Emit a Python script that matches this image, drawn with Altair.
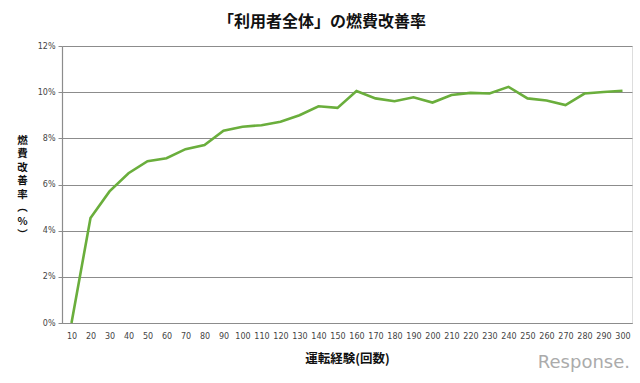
import altair as alt
import pandas as pd

counts = [10, 20, 30, 40, 50, 60, 70, 80, 90, 100, 110, 120, 130, 140, 150,
          160, 170, 180, 190, 200, 210, 220, 230, 240, 250, 260, 270, 280, 290, 300]
improvement = [0.0, 4.55, 5.7, 6.49, 7.01, 7.14, 7.53, 7.71, 8.33, 8.5, 8.57, 8.72, 9.0, 9.39, 9.32,
               10.05, 9.73, 9.61, 9.78, 9.55, 9.88, 9.97, 9.94, 10.23, 9.73, 9.64, 9.44, 9.94, 10.01, 10.06]
y_ticks = [0, 2, 4, 6, 8, 10, 12]

df = pd.DataFrame({"count": [str(c) for c in counts], "value": improvement})

ytitle = ["燃", "費", "改", "善", "率", "︵", "%", "︶"]

line = alt.Chart(df).mark_line(color="#6aae3c", strokeWidth=2.6).encode(
    x=alt.X("count:O", sort=None,
            scale=alt.Scale(type="point", padding=0.5),
            axis=alt.Axis(title="運転経験(回数)", labelAngle=0, ticks=False,
                          labelFontSize=8, labelColor="#444", labelPadding=9,
                          labelFont="DejaVu Sans",
                          domainColor="#8c8c8c", domainWidth=1.2,
                          titleFont="Noto Sans CJK JP", titleFontSize=12.5,
                          titleFontWeight="bold", titleColor="#111",
                          titlePadding=12)),
    y=alt.Y("value:Q",
            scale=alt.Scale(domain=[0, 12], nice=False),
            axis=alt.Axis(values=y_ticks, labelExpr="datum.value + '%'",
                          labelFontSize=8, labelColor="#444", labelFont="DejaVu Sans",
                          labelPadding=3, tickSize=4, tickColor="#8c8c8c",
                          domainColor="#8c8c8c", domainWidth=1.2,
                          gridColor="#8c8c8c", gridWidth=1.2,
                          title=ytitle, titleAngle=0, titleX=-40, titleY=89,
                          titleAlign="center", titleBaseline="top",
                          titleFont="Noto Sans CJK JP", titleFontSize=10.5,
                          titleFontWeight="bold", titleColor="#111",
                          titleLineHeight=13.5)),
)

logo = alt.Chart(pd.DataFrame({"t": ["Response."]})).mark_text(
    font="DejaVu Sans", fontSize=18, color="#ababab", align="right",
    baseline="middle"
).encode(text="t:N", x=alt.value(568), y=alt.value(317))

chart = (line + logo).properties(
    width=570, height=277,
    title=alt.TitleParams("「利用者全体」の燃費改善率", font="Noto Sans CJK JP",
                          fontSize=16, fontWeight="bold", color="#111",
                          anchor="middle", dx=-25, offset=12),
    autosize=alt.AutoSizeParams(type="none"),
    padding={"left": 62, "top": 46, "right": 8, "bottom": 60},
).configure_view(stroke=None).configure(background="white")

chart.save("out.html", embed_options={"renderer": "svg", "actions": False})
